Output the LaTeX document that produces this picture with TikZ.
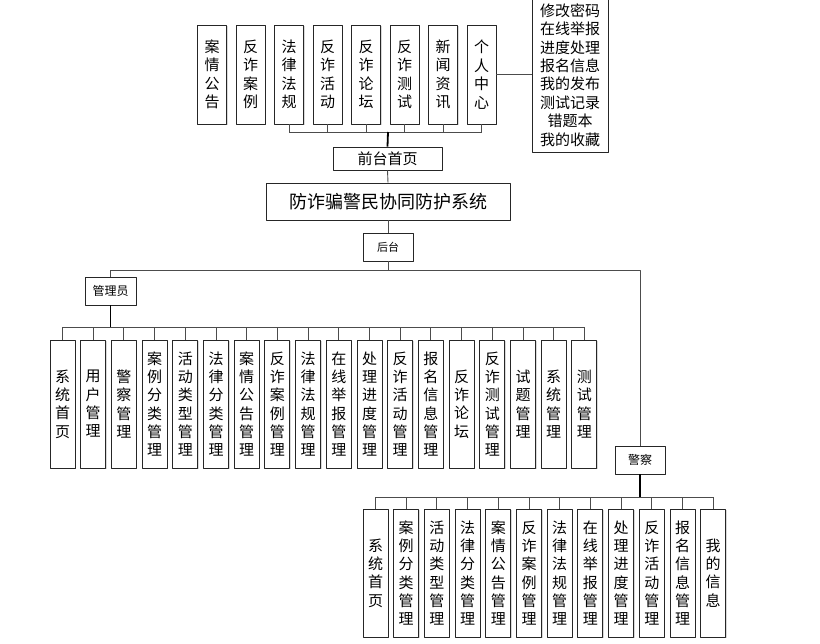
\documentclass[tikz,border=0pt]{standalone}
\usepackage{fontspec}
\setmainfont{Noto Sans CJK SC}
\XeTeXlinebreaklocale "zh"
\XeTeXlinebreakskip=0pt plus 1pt
\usetikzlibrary{shadows}

\begin{document}
\begin{tikzpicture}[x=1pt, y=-1pt, line join=round,
    box/.style={draw=black!85, fill=white, line width=0.9pt, inner sep=0pt, align=center,
                drop shadow={shadow xshift=1pt, shadow yshift=-1pt, opacity=0.3}},
    topbox/.style={box, minimum width=29pt, minimum height=99pt, text width=16pt,
                   font=\fontsize{15}{18.5}\selectfont},
    colbox/.style={box, minimum width=25pt, minimum height=128pt, text width=16pt,
                   font=\fontsize{15}{18.3}\selectfont},
    link/.style={draw=black!70, line width=0.9pt},
    trunk/.style={draw=black, line width=1.8pt}]
    \useasboundingbox (0,0) rectangle (820,644);

    % 前台
    \foreach \t [count=\i] in {案情公告,反诈案例,法律法规,反诈活动,反诈论坛,反诈测试,新闻资讯,个人中心}
        \node[topbox] (t\i) at ({212+38.5*(\i-1)},74.5) {\t};
    \node[box, minimum width=76pt, minimum height=154pt, font=\fontsize{15}{18.4}\selectfont]
        (mine) at (570,75) {修改密码\\在线举报\\进度处理\\报名信息\\我的发布\\测试记录\\错题本\\我的收藏};
    \node[box, minimum width=109pt, minimum height=23pt, font=\fontsize{15}{18}\selectfont]
        (front) at (387.5,158.5) {前台首页};

    % 系统与后台
    \node[box, minimum width=244pt, minimum height=37pt, font=\fontsize{18}{20}\selectfont]
        (title) at (388,201.5) {防诈骗警民协同防护系统};
    \node[box, minimum width=50pt, minimum height=28pt, font=\fontsize{11}{13}\selectfont]
        (back) at (388,247) {后台};
    \node[box, minimum width=51pt, minimum height=28pt, font=\fontsize{12}{14}\selectfont]
        (admin) at (110.5,291) {管理员};
    \node[box, minimum width=50pt, minimum height=28pt, font=\fontsize{12}{14}\selectfont]
        (police) at (640,460) {警察};

    % 管理员功能
    \foreach \t [count=\i] in {系统首页,用户管理,警察管理,案例分类管理,活动类型管理,法律分类管理,
        案情公告管理,反诈案例管理,法律法规管理,在线举报管理,处理进度管理,反诈活动管理,
        报名信息管理,反诈论坛,反诈测试管理,试题管理,系统管理,测试管理}
        \node[colbox] (a\i) at ({62.5+30.7*(\i-1)},404) {\t};

    % 警察功能
    \foreach \t [count=\i] in {系统首页,案例分类管理,活动类型管理,法律分类管理,案情公告管理,
        反诈案例管理,法律法规管理,在线举报管理,处理进度管理,反诈活动管理,报名信息管理,我的信息}
        \node[colbox] (p\i) at ({375.5+30.7*(\i-1)},573) {\t};

    % 连线
    \coordinate (fbus) at (388,132);
    \foreach \i in {3,...,8}
        \draw[link] (t\i.south) -- (t\i.south |- fbus);
    \draw[link] (t3.south |- fbus) -- (t8.south |- fbus);
    \draw[trunk] (fbus) -- (front.north);
    \draw[link] (t8.east) -- (t8.east -| mine.west);
    \draw[link] (front.south) -- (title.north);
    \draw[link] (title.south) -- (back.north);

    \coordinate (mbus) at (388,270);
    \draw[link] (back.south) -- (mbus);
    \draw[link] (admin.north) -- (admin.north |- mbus) -- (police.north |- mbus) -- (police.north);

    \coordinate (abus) at (110.5,327);
    \foreach \i in {1,...,18}
        \draw[link] (a\i.north) -- (a\i.north |- abus);
    \draw[link] (a1.north |- abus) -- (a18.north |- abus);
    \draw[trunk] (admin.south) -- (abus);

    \coordinate (pbus) at (640,497);
    \foreach \i in {1,...,12}
        \draw[link] (p\i.north) -- (p\i.north |- pbus);
    \draw[link] (p1.north |- pbus) -- (p12.north |- pbus);
    \draw[trunk] (police.south) -- (pbus);
\end{tikzpicture}
\end{document}
